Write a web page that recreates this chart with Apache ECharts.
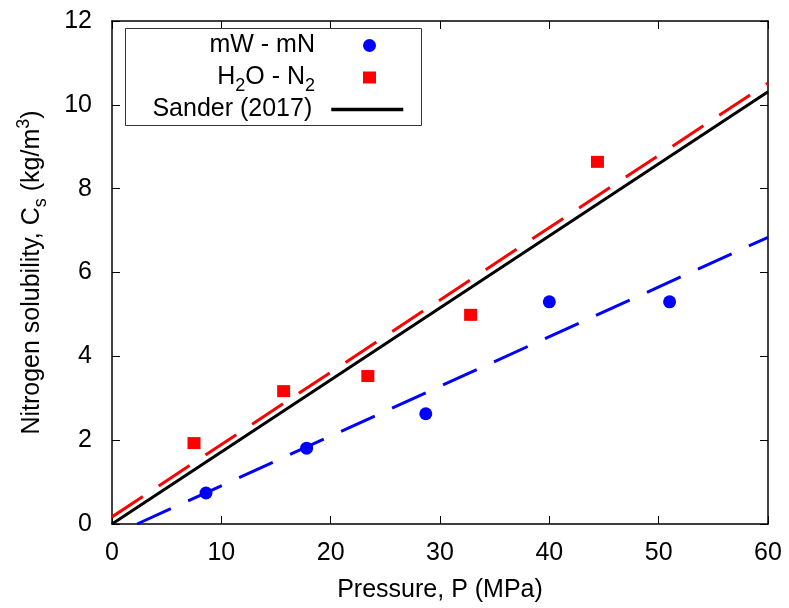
<!DOCTYPE html>
<html>
<head>
<meta charset="utf-8">
<script src="https://cdn.jsdelivr.net/npm/echarts@6/dist/echarts.min.js"></script>
<style>
html,body{margin:0;padding:0;background:#fff;}
#chart{width:789px;height:608px;}
</style>
</head>
<body>
<div id="chart"></div>
<script>
// Data
var mwPressure = [8.6, 17.8, 28.7, 40.0, 51.0];
var mwSolubility = [0.74, 1.81, 2.63, 5.30, 5.30];
var h2oPressure = [7.5, 15.7, 23.4, 32.8, 44.4];
var h2oSolubility = [1.93, 3.17, 3.53, 4.99, 8.64];
var sanderP = [0, 60];
var sanderC = [0, 10.31];
var h2oFitP = [0, 60];
var h2oFitC = [0.17, 10.52];
var mwFitP = [2.3, 60];
var mwFitC = [0, 6.84];
var xTicks = [0, 10, 20, 30, 40, 50, 60];
var yTicks = [0, 2, 4, 6, 8, 10, 12];

function pairs(xs, ys) { return xs.map(function (x, i) { return [x, ys[i]]; }); }

var FONT = 'Liberation Sans';
var FS = 25;
var SUBFS = 18;
var chart = echarts.init(document.getElementById('chart'), null, {renderer: 'canvas'});

function axisCommon(pos, showLabel) {
  return {
    position: pos,
    axisLine: {show: true, onZero: false, lineStyle: {color: '#000', width: 1.5}},
    axisTick: {show: true, inside: true, length: 8, lineStyle: {color: '#000', width: 1}},
    splitLine: {show: false},
    axisLabel: {show: showLabel, color: '#000', fontSize: FS, fontFamily: FONT}
  };
}

var xb = Object.assign(axisCommon('bottom', true), {
  type: 'value', min: xTicks[0], max: xTicks[xTicks.length - 1], interval: xTicks[1] - xTicks[0],
  name: 'Pressure, P (MPa)', nameLocation: 'middle', nameGap: 54,
  nameTextStyle: {color: '#000', fontSize: FS, fontFamily: FONT}
});
xb.axisLabel.margin = 17;
var xt = Object.assign(axisCommon('top', false), {
  type: 'value', min: xTicks[0], max: xTicks[xTicks.length - 1], interval: xTicks[1] - xTicks[0]
});
var yl = Object.assign(axisCommon('left', true), {
  type: 'value', min: yTicks[0], max: yTicks[yTicks.length - 1], interval: yTicks[1] - yTicks[0],
  name: '{a|Nitrogen solubility, C}{sub|s}{a| (kg/m}{sup|3}{a|)}',
  nameLocation: 'middle', nameRotate: 90, nameGap: 62,
  nameTextStyle: {
    color: '#000', fontSize: FS, fontFamily: FONT,
    rich: {
      a: {color: '#000', fontSize: FS, fontFamily: FONT, lineHeight: 35},
      sub: {color: '#000', fontSize: SUBFS, fontFamily: FONT, verticalAlign: 'bottom', lineHeight: 18},
      sup: {color: '#000', fontSize: SUBFS, fontFamily: FONT, verticalAlign: 'top', lineHeight: 18}
    }
  }
});
yl.axisLabel.margin = 20;
var yr = Object.assign(axisCommon('right', false), {
  type: 'value', min: yTicks[0], max: yTicks[yTicks.length - 1], interval: yTicks[1] - yTicks[0]
});

var legendText = {color: '#000', fontSize: FS, fontFamily: FONT};
var richLegend = {
  a: {color: '#000', fontSize: FS, fontFamily: FONT, lineHeight: 35},
  sub: {color: '#000', fontSize: SUBFS, fontFamily: FONT, verticalAlign: 'bottom', lineHeight: 18}
};

var option = {
  animation: false,
  backgroundColor: '#fff',
  grid: {left: 112, right: 21, top: 21, bottom: 84, containLabel: false},
  xAxis: [xb, xt],
  yAxis: [yl, yr],
  graphic: [{
    type: 'rect', z: 3,
    shape: {x: 125.5, y: 28.5, width: 296, height: 97},
    style: {fill: '#fff', stroke: '#333', lineWidth: 1}
  }],
  legend: [
    {
      data: ['mW - mN'], align: 'right', right: 413, top: 33, padding: 0, z: 6,
      itemWidth: 13, itemHeight: 13, selectedMode: false,
      textStyle: Object.assign({padding: [0, 43, 0, 0]}, legendText)
    },
    {
      data: ['H2O - N2'], align: 'right', right: 413, top: 65, padding: 0, z: 6,
      itemWidth: 13, itemHeight: 12, selectedMode: false,
      formatter: function () { return '{a|H}{sub|2}{a|O - N}{sub|2}'; },
      textStyle: Object.assign({padding: [0, 43, 0, 0], rich: richLegend}, legendText)
    },
    {
      data: ['Sander (2017)'], align: 'right', right: 384, top: 97, padding: 0, z: 6,
      itemWidth: 72, itemHeight: 13, selectedMode: false,
      itemStyle: {opacity: 0},
      lineStyle: {color: '#000', width: 3.5},
      textStyle: Object.assign({padding: [0, 14, 0, 0]}, legendText)
    }
  ],
  series: [
    {
      name: 'Sander (2017)', type: 'line', data: pairs(sanderP, sanderC),
      symbol: 'none', z: 2,
      lineStyle: {color: '#000', width: 3}, itemStyle: {color: '#000'}
    },
    {
      name: 'H2O fit', type: 'line', data: pairs(h2oFitP, h2oFitC),
      symbol: 'none', z: 2,
      lineStyle: {color: '#ff0000', width: 3, type: [37, 19]}
    },
    {
      name: 'mW fit', type: 'line', data: pairs(mwFitP, mwFitC),
      symbol: 'none', z: 2,
      lineStyle: {color: '#0000ff', width: 3, type: [37, 19]}
    },
    {
      name: 'mW - mN', type: 'scatter', data: pairs(mwPressure, mwSolubility),
      symbol: 'circle', symbolSize: 13, z: 3,
      itemStyle: {color: '#0000ff', opacity: 1}
    },
    {
      name: 'H2O - N2', type: 'scatter', data: pairs(h2oPressure, h2oSolubility),
      symbol: 'rect', symbolSize: [13, 12], z: 3,
      itemStyle: {color: '#ff0000', opacity: 1}
    }
  ]
};
chart.setOption(option);
</script>
</body>
</html>
